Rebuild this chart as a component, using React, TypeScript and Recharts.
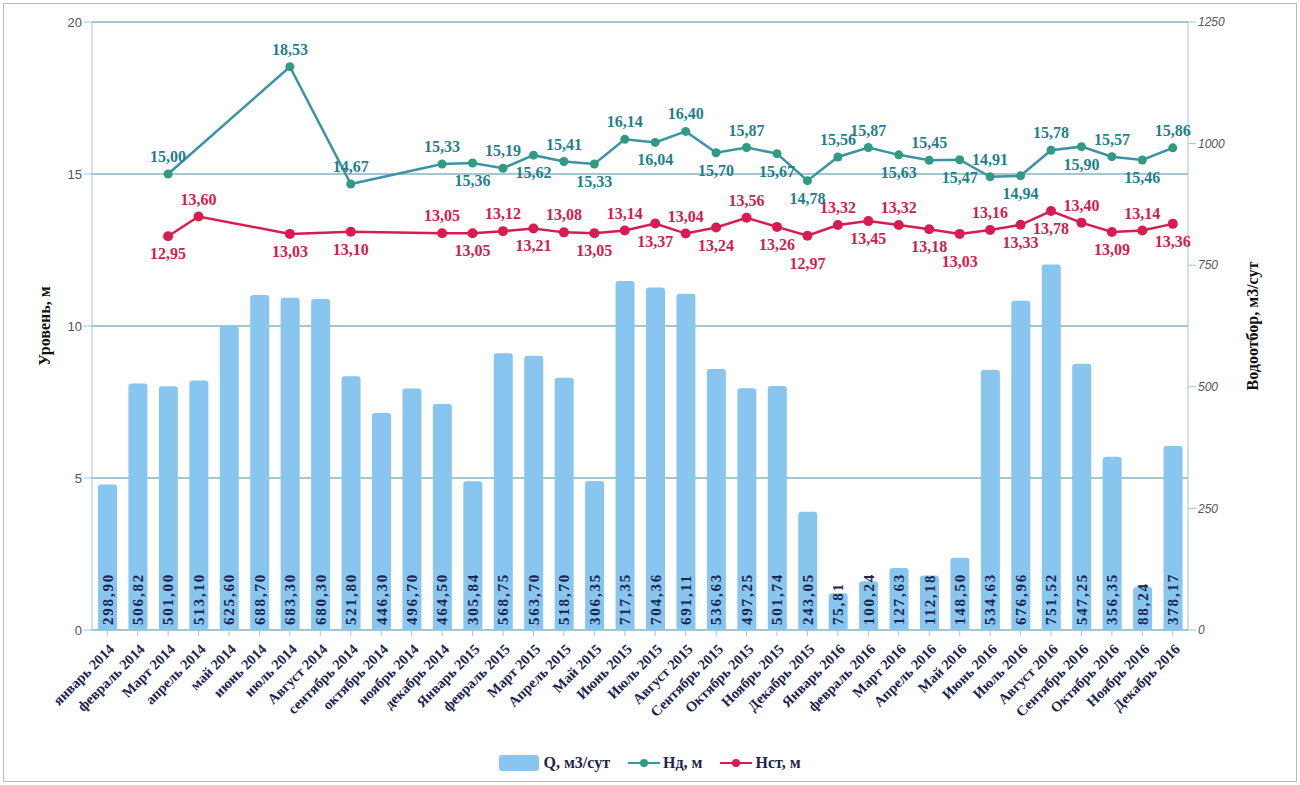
import React from 'react';
import { ComposedChart, Bar, Line, XAxis, YAxis, CartesianGrid, Legend, LabelList, Label } from 'recharts';

const months = [
  'январь 2014', 'февраль 2014', 'Март 2014', 'апрель 2014', 'май 2014', 'июнь 2014',
  'июль 2014', 'Август 2014', 'сентябрь 2014', 'октябрь 2014', 'ноябрь 2014', 'декабрь 2014',
  'Январь 2015', 'февраль 2015', 'Март 2015', 'Апрель 2015', 'Май 2015', 'Июнь 2015',
  'Июль 2015', 'Август 2015', 'Сентябрь 2015', 'Октябрь 2015', 'Ноябрь 2015', 'Декабрь 2015',
  'Январь 2016', 'февраль 2016', 'Март 2016', 'Апрель 2016', 'Май 2016', 'Июнь 2016',
  'Июль 2016', 'Август 2016', 'Сентябрь 2016', 'Октябрь 2016', 'Ноябрь 2016', 'Декабрь 2016',
];

const qValues = [
  298.9, 506.82, 501.0, 513.1, 625.6, 688.7, 683.3, 680.3, 521.8, 446.3, 496.7, 464.5,
  305.84, 568.75, 563.7, 518.7, 306.35, 717.35, 704.36, 691.11, 536.63, 497.25, 501.74, 243.05,
  75.81, 100.24, 127.63, 112.18, 148.5, 534.63, 676.96, 751.52, 547.25, 356.35, 88.24, 378.17,
];

const ndValues: (number | null)[] = [
  null, null, 15.0, null, null, null, 18.53, null, 14.67, null, null, 15.33,
  15.36, 15.19, 15.62, 15.41, 15.33, 16.14, 16.04, 16.4, 15.7, 15.87, 15.67, 14.78,
  15.56, 15.87, 15.63, 15.45, 15.47, 14.91, 14.94, 15.78, 15.9, 15.57, 15.46, 15.86,
];

const nstValues: (number | null)[] = [
  null, null, 12.95, 13.6, null, null, 13.03, null, 13.1, null, null, 13.05,
  13.05, 13.12, 13.21, 13.08, 13.05, 13.14, 13.37, 13.04, 13.24, 13.56, 13.26, 12.97,
  13.32, 13.45, 13.32, 13.18, 13.03, 13.16, 13.33, 13.78, 13.4, 13.09, 13.14, 13.36,
];

const leftTicks = [0, 5, 10, 15, 20];
const rightTicks = [0, 250, 500, 750, 1000, 1250];

// label placement (t = above, b = below, B = further below)
const ndLabelSide = [
  '', '', 't', '', '', '', 't', '', 't', '', '', 't',
  'b', 't', 'b', 't', 'b', 't', 'b', 't', 'b', 't', 'b', 'b',
  't', 't', 'b', 't', 'b', 't', 'b', 't', 'b', 't', 'b', 't',
];
const nstLabelSide = [
  '', '', 'b', 't', '', '', 'b', '', 'b', '', '', 't',
  'b', 't', 'b', 't', 'b', 't', 'b', 't', 'b', 't', 'b', 'B',
  't', 'b', 't', 'b', 'B', 't', 'b', 'b', 't', 'b', 't', 'b',
];

const data = months.map((m, i) => ({ month: m, q: qValues[i], nd: ndValues[i], nst: nstValues[i] }));

const SERIF = '"Liberation Serif", "Times New Roman", serif';
const SANS = '"Liberation Sans", Arial, sans-serif';
const BAR = '#88c6ef';
const TEAL = '#3a93a6';
const TEAL_DOT = '#2f9b80';
const TEAL_TXT = '#1f7f8e';
const RED = '#d81c4f';
const RED_TXT = '#d01e4c';
const NAVY = '#1b2550';

const fmt = (v: number) => v.toFixed(2).replace('.', ',');

const XTick = (props: any) => {
  const { x, y, payload } = props;
  const ax = x + 8;
  const ay = y + 12;
  return (
    <text x={ax} y={ay} transform={`rotate(-45 ${ax} ${ay})`} textAnchor="end" fontFamily={SERIF}
      fontWeight="bold" fontSize={14.5} fill={NAVY}>
      {payload.value}
    </text>
  );
};

const BarValueLabel = (props: any) => {
  const { x, y, width, height, value } = props;
  const cx = x + width / 2;
  const by = y + height - 5;
  return (
    <text x={cx} y={by} transform={`rotate(-90 ${cx} ${by})`} textAnchor="start" dominantBaseline="central"
      fontFamily={SERIF} fontWeight="bold" fontSize={15} fill={NAVY} letterSpacing={1.8}>
      {fmt(Number(value))}
    </text>
  );
};

const makeLineLabel = (sides: string[], color: string) => (props: any) => {
  const { x, y, index, value } = props;
  if (value === null || value === undefined) return null;
  const side = sides[index];
  const ly = side === 'B' ? y + 33 : side === 'b' ? y + 23 : y - 12;
  return (
    <text x={x} y={ly} textAnchor="middle" fontFamily={SERIF} fontWeight="bold" fontSize={16} fill={color}>
      {fmt(Number(value))}
    </text>
  );
};

const LegendContent = () => (
  <div style={{ display: 'flex', justifyContent: 'center', alignItems: 'center', height: 28, fontFamily: SERIF, fontWeight: 'bold', fontSize: 16, color: NAVY }}>
    <span style={{ display: 'inline-block', width: 40, height: 16, background: BAR, borderRadius: 3, marginRight: 4 }} />
    <span style={{ marginRight: 18 }}>Q, м3/сут</span>
    <svg width={32} height={12} style={{ marginRight: 3 }}>
      <line x1={0} y1={6} x2={32} y2={6} stroke={TEAL} strokeWidth={2} />
      <circle cx={16} cy={6} r={4} fill={TEAL_DOT} />
    </svg>
    <span style={{ marginRight: 18 }}>Нд, м</span>
    <svg width={32} height={12} style={{ marginRight: 3 }}>
      <line x1={0} y1={6} x2={32} y2={6} stroke={RED} strokeWidth={2} />
      <circle cx={16} cy={6} r={4} fill={RED} />
    </svg>
    <span>Нст, м</span>
  </div>
);

export default function App() {
  return (
    <div style={{ position: 'absolute', left: 0, top: 0, width: 1300, height: 785, background: '#fff' }}>
      <div style={{ position: 'absolute', left: 3, top: 3, width: 1292, height: 777, border: '1px solid #b9b9b9' }} />
      <ComposedChart width={1300} height={785} data={data} margin={{ top: 22, right: 0, left: 0, bottom: 8 }}>
        <CartesianGrid vertical={false} horizontal={true} stroke="#4f8c9c" strokeWidth={1} yAxisId="left" />
        <XAxis dataKey="month" interval={0} height={119} tick={<XTick />} stroke="#9cc6df" tickLine={{ stroke: '#9cc6df' }} />
        <YAxis yAxisId="left" domain={[0, 20]} ticks={leftTicks} width={92} stroke="#9cc6df"
          tick={{ fontFamily: SANS, fontSize: 13, fill: '#555' }} tickLine={{ stroke: '#9cc6df' }} tickSize={8}>
          <Label content={(p: any) => {
            const vb = p.viewBox;
            const cx = 44;
            const cy = vb.y + vb.height / 2;
            return (
              <text x={cx} y={cy} transform={`rotate(-90 ${cx} ${cy})`} textAnchor="middle" dominantBaseline="central"
                fontFamily={SERIF} fontWeight="bold" fontSize={16} fill="#111">Уровень, м</text>
            );
          }} />
        </YAxis>
        <YAxis yAxisId="right" orientation="right" domain={[0, 1250]} ticks={rightTicks} width={112} stroke="#9cc6df"
          tick={{ fontFamily: SANS, fontSize: 12, fontStyle: 'italic', fill: '#555' }} tickLine={{ stroke: '#9cc6df' }} tickSize={8}>
          <Label content={(p: any) => {
            const vb = p.viewBox;
            const cx = 1252;
            const cy = vb.y + vb.height / 2;
            return (
              <text x={cx} y={cy} transform={`rotate(-90 ${cx} ${cy})`} textAnchor="middle" dominantBaseline="central"
                fontFamily={SERIF} fontWeight="bold" fontSize={16} fill="#111">Водоотбор, м3/сут</text>
            );
          }} />
        </YAxis>
        <Legend verticalAlign="bottom" content={<LegendContent />} />
        <Bar yAxisId="right" dataKey="q" name="Q, м3/сут" fill={BAR} barSize={19} radius={[3, 3, 0, 0]} isAnimationActive={false}>
          <LabelList dataKey="q" content={<BarValueLabel />} />
        </Bar>
        <Line yAxisId="left" dataKey="nd" name="Нд, м" stroke={TEAL} strokeWidth={2.5} connectNulls
          dot={{ r: 4.5, fill: TEAL_DOT, stroke: TEAL_DOT, strokeWidth: 0 }} isAnimationActive={false}>
          <LabelList dataKey="nd" content={makeLineLabel(ndLabelSide, TEAL_TXT)} />
        </Line>
        <Line yAxisId="left" dataKey="nst" name="Нст, м" stroke={RED} strokeWidth={2.5} connectNulls
          dot={{ r: 5, fill: RED, stroke: RED, strokeWidth: 0 }} isAnimationActive={false}>
          <LabelList dataKey="nst" content={makeLineLabel(nstLabelSide, RED_TXT)} />
        </Line>
      </ComposedChart>
    </div>
  );
}
